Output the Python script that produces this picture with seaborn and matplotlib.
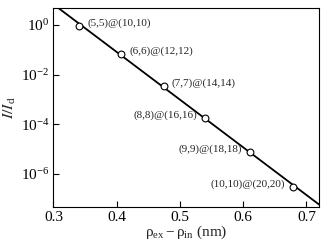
import numpy as np
import pandas as pd
import seaborn as sns
import matplotlib.pyplot as plt

# data
rho_diff = [0.340, 0.407, 0.474, 0.540, 0.611, 0.679]
ratio = [0.90, 0.069, 3.6e-3, 1.7e-4, 7.6e-6, 3.0e-7]
labels = ['(5,5)@(10,10)', '(6,6)@(12,12)', '(7,7)@(14,14)',
          '(8,8)@(16,16)', '(9,9)@(18,18)', '(10,10)@(20,20)']
label_side = ['right', 'right', 'right', 'left', 'left', 'left']

sns.set_style('ticks')
plt.rcParams['font.family'] = ['Liberation Serif', 'DejaVu Serif']
plt.rcParams['mathtext.fontset'] = 'stix'

pts = pd.DataFrame({'x': rho_diff, 'y': ratio})

# exponential fit through the points
k, b = np.polyfit(pts['x'], np.log10(pts['y']), 1)
xf = np.linspace(0.28, 0.74, 50)
fit = pd.DataFrame({'x': xf, 'y': 10 ** (k * xf + b)})

fig, ax = plt.subplots(figsize=(3.24, 2.43), dpi=100)
sns.lineplot(data=fit, x='x', y='y', color='black', lw=1.3, ax=ax)
sns.scatterplot(data=pts, x='x', y='y', marker='o', s=24, facecolor='white',
                edgecolor='black', linewidth=0.8, zorder=3, ax=ax)
ax.set_yscale('log')
ax.set_xlim(0.3, 0.72)
ax.set_ylim(10 ** -7.32, 10 ** 0.68)
ax.set_xticks([0.3, 0.4, 0.5, 0.6, 0.7])
ax.set_yticks([1, 1e-2, 1e-4, 1e-6])
ax.minorticks_off()
ax.tick_params(direction='in', length=4, width=0.8, labelsize=11, colors='black', pad=3)
for s in ax.spines.values():
    s.set_linewidth(0.8)
    s.set_color('black')

for x, y, t, side in zip(rho_diff, ratio, labels, label_side):
    dx = 6 if side == 'right' else -6
    ax.annotate(t, (x, y), xytext=(dx, 2), textcoords='offset points',
                ha='left' if side == 'right' else 'right', va='center', fontsize=8)

ax.set_xlabel(r'$\mathregular{\rho_{ex} - \rho_{in}}$ (nm)', fontsize=11, labelpad=0)
ax.set_ylabel(r'$I/I_\mathregular{d}$', fontsize=11.5, labelpad=2)

fig.subplots_adjust(left=0.165, right=0.985, top=0.967, bottom=0.15)
fig.savefig('out.png', dpi=100)
